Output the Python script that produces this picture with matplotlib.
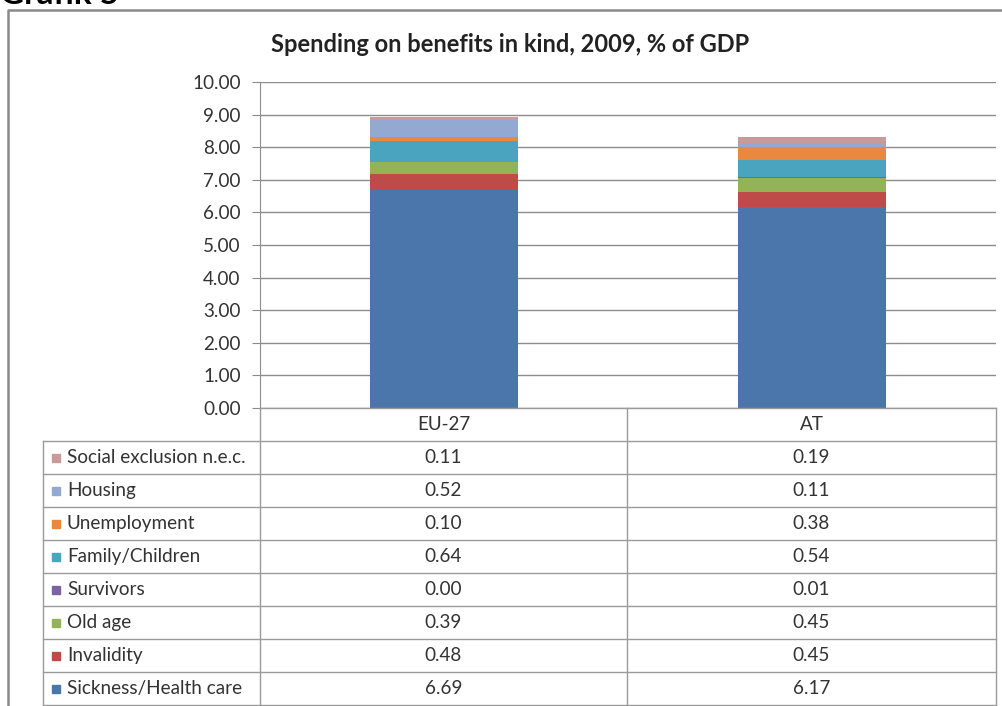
import matplotlib
matplotlib.use("Agg")
import matplotlib.pyplot as plt
import numpy as np

plt.rcParams['font.family'] = ['Lato', 'DejaVu Sans']

# Data: spending on benefits in kind, 2009, % of GDP
countries = ["EU-27", "AT"]
functions = ["Sickness/Health care", "Invalidity", "Old age", "Survivors",
             "Family/Children", "Unemployment", "Housing", "Social exclusion n.e.c."]
eu27 = [6.69, 0.48, 0.39, 0.00, 0.64, 0.10, 0.52, 0.11]
austria = [6.17, 0.45, 0.45, 0.01, 0.54, 0.38, 0.11, 0.19]
colors = ["#4A76AC", "#BE4B48", "#93B356", "#7D62A0", "#4AA3BF", "#E8893F",
          "#93A9D2", "#C99A9A"]
yticks = np.arange(0, 10.01, 1.0)

W, H = 1003, 706
fig = plt.figure(figsize=(W / 100, H / 100), dpi=100)

# pixel helpers
def fx(px):
    return px / W

def fy(py):
    return 1 - py / H

txt_col = "#333333"
fs = 13.6

ax_left, ax_right, ax_top, ax_bot = 260, 996, 82, 408
ax = fig.add_axes([fx(ax_left), fy(ax_bot), fx(ax_right - ax_left),
                   (ax_bot - ax_top) / H])

values = np.array([eu27, austria]).T
x = np.arange(len(countries))
bottom = np.zeros(len(countries))
for i, name in enumerate(functions):
    ax.bar(x, values[i], width=0.4, bottom=bottom, color=colors[i],
           label=name, zorder=3, linewidth=0)
    bottom += values[i]

ax.set_xlim(-0.5, len(countries) - 0.5)
ax.set_ylim(0, 10)
ax.set_yticks(yticks)
ax.set_yticklabels([f"{v:.2f}" for v in yticks], fontsize=fs, color=txt_col)
ax.set_xticks([])
ax.grid(axis='y', color="#8C8C8C", linewidth=1.0, zorder=0)
for s in ["top", "right", "bottom"]:
    ax.spines[s].set_visible(False)
ax.spines["left"].set_color("#8C8C8C")
ax.tick_params(axis='y', length=6, color="#8C8C8C", pad=8)

# overlay in pixel coordinates for the frame, title and data table
ov = fig.add_axes([0, 0, 1, 1], zorder=5)
ov.set_xlim(0, W)
ov.set_ylim(H, 0)
ov.axis('off')
ov.patch.set_alpha(0)

# outer chart frame
ov.plot([8, 8, W + 5], [H + 5, 9.5, 9.5], color="#8A8A8A", lw=1.8, clip_on=False)

ov.text(0, 4, "Grafik 5", fontsize=24, fontweight='bold', ha='left',
        va='baseline', color="black", clip_on=False)
ov.text(510, 45, "Spending on benefits in kind, 2009, % of GDP", fontsize=17,
        fontweight='bold', ha='center', va='center', color="#222222")

# data table
line_col = "#9A9A9A"
col_x = [43, 260, 627, 996]
header_top = 408
row_h = 33
row_tops = [header_top + row_h * k for k in range(len(functions) + 2)]
ov.plot([260, 996], [header_top, header_top], color=line_col, lw=1)
for j, c in enumerate(countries):
    ov.text((col_x[j + 1] + col_x[j + 2]) / 2, header_top + row_h / 2, c,
            fontsize=fs, ha='center', va='center', color=txt_col)
n = len(functions)
for r in range(n + 1):
    yline = row_tops[1] + r * row_h
    ov.plot([43, 996], [yline, yline], color=line_col, lw=1)
# vertical lines
ov.plot([43, 43], [row_tops[1], H + 5], color=line_col, lw=1, clip_on=False)
ov.plot([260, 260], [ax_bot, H + 5], color=line_col, lw=1, clip_on=False)
ov.plot([627, 627], [header_top, H + 5], color=line_col, lw=1, clip_on=False)
ov.plot([996, 996], [header_top, H + 5], color=line_col, lw=1, clip_on=False)

# rows listed top-down in reverse stacking order
for r, i in enumerate(reversed(range(n))):
    yc = row_tops[1] + r * row_h + row_h / 2
    ov.add_patch(plt.Rectangle((52, yc - 4), 8, 8, color=colors[i]))
    ov.text(67, yc, functions[i], fontsize=fs, ha='left', va='center',
            color=txt_col)
    for j, vals in enumerate([eu27, austria]):
        ov.text((col_x[j + 1] + col_x[j + 2]) / 2, yc, f"{vals[i]:.2f}",
                fontsize=fs, ha='center', va='center', color=txt_col)

fig.savefig("out.png", dpi=100)
